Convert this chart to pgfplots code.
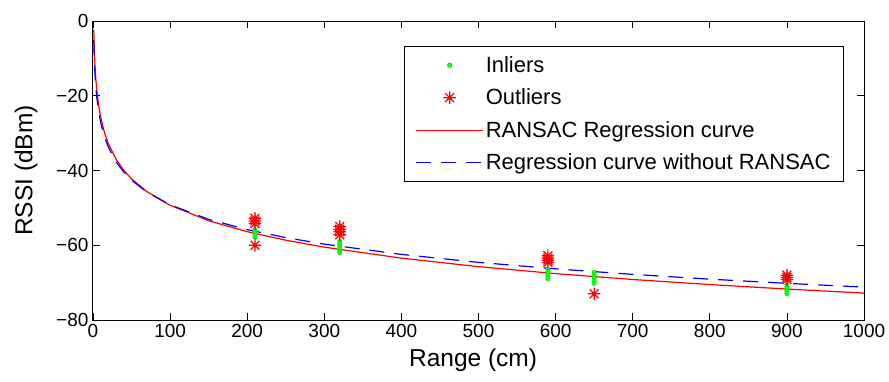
\documentclass[border=0pt]{standalone}
\usepackage{pgfplots}
\pgfplotsset{compat=1.18}
\usepackage{fontspec}
\setmainfont{Liberation Sans}
\pgfdeclareplotmark{mstar}{%
  \pgfpathmoveto{\pgfqpoint{-\pgfplotmarksize}{0pt}}\pgfpathlineto{\pgfqpoint{\pgfplotmarksize}{0pt}}%
  \pgfpathmoveto{\pgfqpoint{0pt}{-\pgfplotmarksize}}\pgfpathlineto{\pgfqpoint{0pt}{\pgfplotmarksize}}%
  \pgfpathmoveto{\pgfqpoint{-0.7071\pgfplotmarksize}{-0.7071\pgfplotmarksize}}\pgfpathlineto{\pgfqpoint{0.7071\pgfplotmarksize}{0.7071\pgfplotmarksize}}%
  \pgfpathmoveto{\pgfqpoint{-0.7071\pgfplotmarksize}{0.7071\pgfplotmarksize}}\pgfpathlineto{\pgfqpoint{0.7071\pgfplotmarksize}{-0.7071\pgfplotmarksize}}%
  \pgfusepathqstroke}
\begin{document}
\begin{tikzpicture}
\useasboundingbox (-93pt,-61pt) rectangle (796pt,320pt);
\begin{axis}[
  scale only axis, width=771pt, height=299pt,
  xmin=0, xmax=1000, ymin=-80, ymax=0,
  xtick={0,100,...,1000},
  ytick={-80,-60,-40,-20,0},
  yticklabels={−80,−60,−40,−20,0},
  tick align=inside, major tick length=7pt,
  tick style={black, line width=0.8pt},
  axis line style={black, line width=1pt},
  /pgf/number format/assume math mode=true,
  /pgf/number format/1000 sep={},
  tick label style={font=\fontsize{19}{22}\selectfont},
  xticklabel style={yshift=-1pt},
  yticklabel style={xshift=-1pt},
  xlabel={Range (cm)}, ylabel={RSSI (dBm)},
  label style={font=\fontsize{24.5}{28}\selectfont},
  xlabel style={at={(axis description cs:0.493,-0.134)}, anchor=center},
  ylabel style={at={(axis description cs:-0.0869,0.5)}, anchor=center},
  legend style={at={(0.974,0.916)}, anchor=north east, draw=black, line width=0.8pt,
    font=\fontsize{22}{26}\selectfont, inner xsep=11pt, inner ysep=8pt,
    row sep=11pt, /tikz/every even column/.style={column sep=8pt}},
  legend cell align=left,
  legend image code/.code={\draw[mark repeat=2,mark phase=2,#1] plot coordinates {(0pt,0pt) (33.5pt,0pt) (67pt,0pt)};},
]
\addplot[only marks, mark=*, mark size=2.2pt, color={rgb,1:red,0;green,0.9;blue,0}, mark options={draw=none, fill={rgb,1:red,0.1;green,1;blue,0.1}}] coordinates {
(210,-55.8) (210,-56.3) (210,-56.8) (210,-57.3) (210,-57.8)
(320,-59.0) (320,-59.6) (320,-60.2) (320,-60.8) (320,-61.4) (320,-62.0)
(590,-66.5) (590,-67.0) (590,-67.5) (590,-68.0) (590,-68.5) (590,-69.0)
(650,-67.2) (650,-67.8) (650,-68.4) (650,-69.0) (650,-69.6) (650,-70.2)
(900,-70.5) (900,-71.0) (900,-71.5) (900,-72.0) (900,-72.5) (900,-73.0)
};
\addlegendentry{Inliers}
\addplot[only marks, mark=mstar, mark size=6.3pt, red, line width=1.2pt] coordinates {
(210,-52.8) (210,-53.5) (210,-54.2) (210,-60.0)
(320,-55.0) (320,-55.7) (320,-56.4) (320,-57.2)
(590,-62.8) (590,-63.4) (590,-64.0) (590,-64.6)
(650,-73.0)
(900,-68.0) (900,-68.6) (900,-69.2)
};
\addlegendentry{Outliers}
\addplot[red, line width=1.2pt, no marks] coordinates {
(1,-2.30) (1.5,-6.44) (2,-9.37) (3,-13.51) (4,-16.45) (5,-18.73) (7,-22.16)
(10,-25.80) (15,-29.94) (20,-32.87) (30,-37.01) (40,-39.95) (50,-42.23) (70,-45.66)
(100,-49.30) (150,-53.44) (200,-56.37) (250,-58.65) (300,-60.51) (400,-63.45)
(500,-65.73) (600,-67.59) (700,-69.16) (800,-70.52) (900,-71.72) (1000,-72.80)
};
\addlegendentry{RANSAC Regression curve}
\addplot[blue, line width=1.2pt, no marks, dash pattern=on 15pt off 10pt] coordinates {
(1,-5.20) (1.5,-9.07) (2,-11.82) (3,-15.70) (4,-18.45) (5,-20.58) (7,-23.79)
(10,-27.20) (15,-31.07) (20,-33.82) (30,-37.70) (40,-40.45) (50,-42.58) (70,-45.79)
(100,-49.20) (150,-53.07) (200,-55.82) (250,-57.95) (300,-59.70) (400,-62.45)
(500,-64.58) (600,-66.32) (700,-67.79) (800,-69.07) (900,-70.19) (1000,-71.20)
};
\addlegendentry{Regression curve without RANSAC}
\end{axis}
\end{tikzpicture}
\end{document}
